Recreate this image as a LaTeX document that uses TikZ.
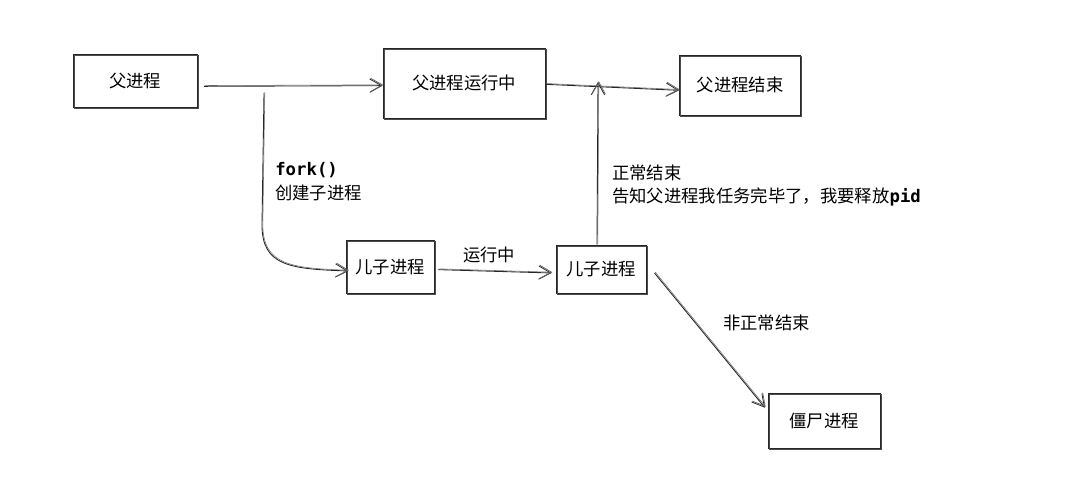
\documentclass[tikz,border=0pt]{standalone}
\usepackage{fontspec}
\setmainfont{Noto Sans CJK SC}
\setmonofont{DejaVu Sans Mono}
\usetikzlibrary{arrows.meta}
\tikzset{
  box/.style={draw=black!85, line width=0.7pt, inner sep=0pt, font=\fontsize{13}{15}\selectfont,
    postaction={draw=black!70, line width=0.45pt, transform canvas={xshift=0.8pt,yshift=-0.7pt}}},
  conn/.style={draw=black!85, line width=0.65pt, -{Straight Barb[length=9pt,width=10pt,line width=0.6pt]},
    postaction={draw=black!60, line width=0.4pt, transform canvas={xshift=0.6pt,yshift=0.6pt}}},
  lbl/.style={font=\fontsize{13}{15}\selectfont, anchor=west, inner sep=0pt}
}
\begin{document}
\begin{tikzpicture}[x=0.75pt,y=-0.75pt]
\fill[white] (0,0) rectangle (1078,488);
\useasboundingbox (0,0) rectangle (1078,488);
\node[box, minimum width=93pt, minimum height=40pt] (p) at (135,81) {父进程};
\node[box, minimum width=121.5pt, minimum height=52.5pt] (run) at (464,83) {父进程运行中};
\node[box, minimum width=91pt, minimum height=45pt] (end) at (740,85) {父进程结束};
\node[box, minimum width=66pt, minimum height=40pt] (c1) at (390,267) {儿子进程};
\node[box, minimum width=67.5pt, minimum height=36pt] (c2) at (601,269) {儿子进程};
\node[box, minimum width=84pt, minimum height=41pt] (z) at (824,421) {僵尸进程};
\coordinate (forkstart) at (264,93);
\coordinate (join) at (598,82);
\draw[conn] ([xshift=5pt,yshift=-4pt]p.east) -- ([yshift=-2pt]run.west);
\draw[conn] ([yshift=-1pt]run.east) -- ([yshift=-4pt]end.west);
\draw[conn] (forkstart) -- (262,225) .. controls (262,266) and (290,269) .. ([xshift=2pt,yshift=-3pt]c1.west);
\draw[conn] ([xshift=3pt,yshift=-2pt]c1.east) -- ([xshift=-3pt,yshift=-3pt]c2.west);
\draw[conn] ([xshift=-3pt]c2.north) -- (join);
\draw[conn] ([xshift=6pt,yshift=-3pt]c2.east) -- ([xshift=-2pt,yshift=10pt]z.west);
\node[lbl] (lf) at (275,170) {\ttfamily\bfseries fork()};
\node[lbl] (lf2) at (275,193) {创建子进程};
\node[lbl] (lr) at (463,255) {运行中};
\node[lbl] (ln) at (612,173) {正常结束};
\node[lbl] (ln2) at (612,197) {告知父进程我任务完毕了，我要释放{\ttfamily\bfseries pid}};
\node[lbl] (la) at (723,323) {非正常结束};
\end{tikzpicture}
\end{document}
